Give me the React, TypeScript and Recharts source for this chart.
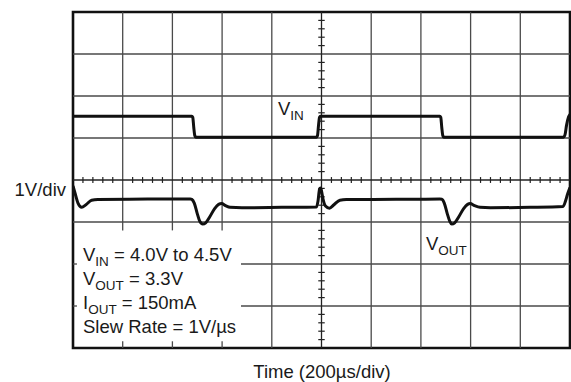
import React from 'react'
import { LineChart, Line, XAxis, YAxis, ReferenceLine, ReferenceArea } from 'recharts'

// graticule: 10 x 8 divisions
const xDivs = [0, 1, 2, 3, 4, 5, 6, 7, 8, 9, 10]
const yDivs = [0, 1, 2, 3, 4, 5, 6, 7, 8]

// V_IN trace (time in div, level in div)
const vinTime = [0, 2.39, 2.41, 2.43, 2.45, 2.47, 4.9, 4.92, 4.94, 4.96, 4.98, 7.38, 7.4, 7.42, 7.44, 7.46, 9.87, 9.9, 9.93, 9.97, 10]
const vinLevel = [5.52, 5.52, 5.49, 5.25, 5.06, 5.02, 5.02, 5.06, 5.3, 5.49, 5.52, 5.52, 5.49, 5.25, 5.06, 5.02, 5.02, 5.08, 5.3, 5.5, 5.56]

// V_OUT trace
const voutTime = [
  0, 0.04, 0.1, 0.175, 0.26, 0.375, 0.5, 1.5, 2.36, 2.39, 2.44, 2.5, 2.55, 2.61, 2.67, 2.75, 2.85, 2.93, 2.99, 3.07, 3.16, 3.4, 4.2, 4.9,
  4.93, 4.96, 4.98, 5.0, 5.03, 5.08, 5.16, 5.25, 5.37, 5.5, 6.5, 7.38, 7.42, 7.47, 7.53, 7.58, 7.62, 7.68, 7.76, 7.86, 7.94, 7.99, 8.08,
  8.19, 8.4, 9.2, 9.86, 9.91, 9.95, 9.98, 10,
]
const voutLevel = [
  3.86, 3.69, 3.45, 3.35, 3.41, 3.52, 3.535, 3.545, 3.55, 3.54, 3.45, 3.2, 3.02, 2.95, 2.98, 3.12, 3.32, 3.42, 3.44, 3.39, 3.35, 3.34, 3.35, 3.36,
  3.5, 3.78, 3.81, 3.74, 3.55, 3.38, 3.33, 3.41, 3.52, 3.535, 3.54, 3.545, 3.54, 3.45, 3.2, 3.02, 2.95, 2.98, 3.12, 3.32, 3.42, 3.44, 3.39,
  3.35, 3.34, 3.35, 3.37, 3.5, 3.66, 3.76, 3.82,
]

// minor ticks on the centre lines, 5 per division
const minorX = xDivs.slice(0, -1).flatMap((d) => [0.2, 0.4, 0.6, 0.8].map((f) => d + f))
const minorY = yDivs.slice(0, -1).flatMap((d) => [0.2, 0.4, 0.6, 0.8].map((f) => d + f))

// white box behind the test conditions (in divisions)
const boxX = [0.08, 3.38]
const boxY = [0.16, 2.8]

const notes = ['= 4.0V to 4.5V', '= 3.3V', '= 150mA', 'Slew Rate = 1V/µs']

const vinData = vinTime.map((t, i) => ({ t, v: vinLevel[i] }))
const voutData = voutTime.map((t, i) => ({ t, v: voutLevel[i] }))

const FONT = '"Liberation Sans", Arial, Helvetica, sans-serif'
const GRID = '#4a4a4a'

// grid segments, broken where the note box sits
const vSegs = xDivs.slice(1, -1).filter((x) => x !== 5).flatMap((x) =>
  x < boxX[1]
    ? [[{ x, y: 0 }, { x, y: boxY[0] }], [{ x, y: boxY[1] }, { x, y: 8 }]]
    : [[{ x, y: 0 }, { x, y: 8 }]]
)
const hSegs = yDivs.slice(1, -1).filter((y) => y !== 4).flatMap((y) =>
  y < boxY[1]
    ? [[{ x: 0, y }, { x: boxX[0], y }], [{ x: boxX[1], y }, { x: 10, y }]]
    : [[{ x: 0, y }, { x: 10, y }]]
)

export default function App() {
  return (
    <div style={{ position: 'absolute', left: 0, top: 0, width: 571, height: 382, background: '#fff', fontFamily: FONT }}>
      <LineChart width={571} height={382} margin={{ top: 12, right: 1, bottom: 34, left: 73 }}>
        <XAxis type="number" dataKey="t" domain={[0, 10]} ticks={xDivs} tick={false} tickLine={false} axisLine={false} height={0} allowDataOverflow />
        <YAxis type="number" dataKey="v" domain={[0, 8]} ticks={yDivs} tick={false} tickLine={false} axisLine={false} width={0} allowDataOverflow />
        {vSegs.map((s, i) => (
          <ReferenceLine key={`v${i}`} segment={s} stroke={GRID} strokeWidth={1.3} />
        ))}
        {hSegs.map((s, i) => (
          <ReferenceLine key={`h${i}`} segment={s} stroke={GRID} strokeWidth={1.3} />
        ))}
        <ReferenceLine x={5} stroke="#222" strokeWidth={1.3} />
        <ReferenceLine y={4} stroke="#222" strokeWidth={1.3} />
        {minorX.map((x) => (
          <ReferenceLine key={`mx${x}`} segment={[{ x, y: 3.93 }, { x, y: 4.07 }]} stroke="#222" strokeWidth={1.2} />
        ))}
        {minorY.map((y) => (
          <ReferenceLine key={`my${y}`} segment={[{ x: 4.935, y }, { x: 5.065, y }]} stroke="#222" strokeWidth={1.2} />
        ))}
        <Line data={vinData} dataKey="v" type="monotone" stroke="#111" strokeWidth={3} dot={false} isAnimationActive={false} />
        <Line data={voutData} dataKey="v" type="monotone" stroke="#111" strokeWidth={3} dot={false} isAnimationActive={false} />
        <ReferenceArea x1={0} x2={10} y1={0} y2={8} fill="none" stroke="#111" strokeWidth={2.6} />
      </LineChart>
      <svg width={571} height={382} style={{ position: 'absolute', left: 0, top: 0, pointerEvents: 'none' }}>
        <g fontFamily={FONT} fontSize={18.5} fill="#1a1a1a">
          <text x={66} y={196} textAnchor="end">1V/div</text>
          <text x={322} y={378} textAnchor="middle">Time (200µs/div)</text>
          <text x={278} y={115}>V<tspan fontSize={13.5} dy={5}>IN</tspan></text>
          <text x={426} y={250}>V<tspan fontSize={13.5} dy={5}>OUT</tspan></text>
          <text x={83} y={261}>V<tspan fontSize={13.5} dy={5}>IN</tspan><tspan dy={-5}> {notes[0]}</tspan></text>
          <text x={83} y={285}>V<tspan fontSize={13.5} dy={5}>OUT</tspan><tspan dy={-5}> {notes[1]}</tspan></text>
          <text x={83} y={309}>I<tspan fontSize={13.5} dy={5}>OUT</tspan><tspan dy={-5}> {notes[2]}</tspan></text>
          <text x={83} y={333}>{notes[3]}</text>
        </g>
      </svg>
    </div>
  )
}
